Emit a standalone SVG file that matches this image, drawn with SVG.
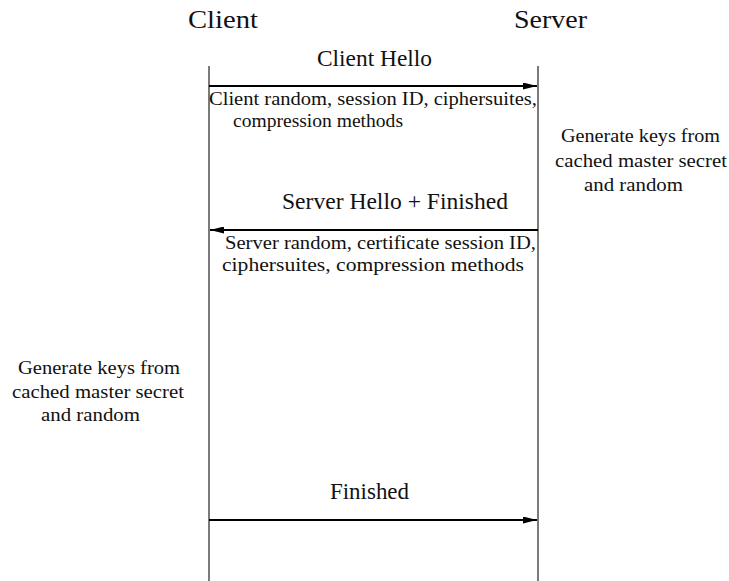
<svg xmlns="http://www.w3.org/2000/svg" width="729" height="581" viewBox="0 0 729 581">
<style>
text{font-family:"Liberation Serif","DejaVu Serif",serif;fill:#111}
.h{font-size:26px}
.m{font-size:23px}
.s{font-size:19.5px}
.life{stroke:#333;stroke-width:1.3}
.msg{stroke:#000;stroke-width:2}
</style>
<defs>
<marker id="ah" viewBox="0 0 14 7" refX="14" refY="3.5" markerWidth="14" markerHeight="7" markerUnits="userSpaceOnUse" orient="auto-start-reverse"><path d="M0,0 L14,3.5 L0,7 z" fill="#000"/></marker>
</defs>
<rect width="729" height="581" fill="#fff"/>
<g id="client">
<text class="h" x="188" y="28" textLength="70" lengthAdjust="spacingAndGlyphs">Client</text>
<line class="life" x1="209" y1="66" x2="209" y2="581"/>
</g>
<g id="server">
<text class="h" x="514" y="28" textLength="73" lengthAdjust="spacingAndGlyphs">Server</text>
<line class="life" x1="538" y1="66" x2="538" y2="581"/>
</g>
<g id="connectors">
<line class="msg" x1="209" y1="86" x2="537" y2="86" marker-end="url(#ah)"/>
<line class="msg" x1="538" y1="230" x2="210" y2="230" marker-end="url(#ah)"/>
<line class="msg" x1="209" y1="520" x2="537" y2="520" marker-end="url(#ah)"/>
</g>
<g id="client-hello">
<text class="m" x="317" y="66" textLength="115" lengthAdjust="spacingAndGlyphs">Client Hello</text>
<text class="s" x="209" y="105" textLength="328" lengthAdjust="spacingAndGlyphs">Client random, session ID, ciphersuites,</text>
<text class="s" x="233" y="127" textLength="170" lengthAdjust="spacingAndGlyphs">compression methods</text>
</g>
<g id="server-keys">
<text class="s" x="561" y="142" textLength="159" lengthAdjust="spacingAndGlyphs">Generate keys from</text>
<text class="s" x="555" y="167" textLength="172" lengthAdjust="spacingAndGlyphs">cached master secret</text>
<text class="s" x="584" y="191" textLength="99" lengthAdjust="spacingAndGlyphs">and random</text>
</g>
<g id="server-hello">
<text class="m" x="282" y="209" textLength="226" lengthAdjust="spacingAndGlyphs">Server Hello + Finished</text>
<text class="s" x="225" y="249" textLength="311" lengthAdjust="spacingAndGlyphs">Server random, certificate session ID,</text>
<text class="s" x="222" y="271" textLength="302" lengthAdjust="spacingAndGlyphs">ciphersuites, compression methods</text>
</g>
<g id="client-keys">
<text class="s" x="18" y="374" textLength="162" lengthAdjust="spacingAndGlyphs">Generate keys from</text>
<text class="s" x="12" y="398" textLength="172" lengthAdjust="spacingAndGlyphs">cached master secret</text>
<text class="s" x="41" y="421" textLength="99" lengthAdjust="spacingAndGlyphs">and random</text>
</g>
<g id="finished">
<text class="m" x="330" y="499" textLength="79" lengthAdjust="spacingAndGlyphs">Finished</text>
</g>
</svg>
